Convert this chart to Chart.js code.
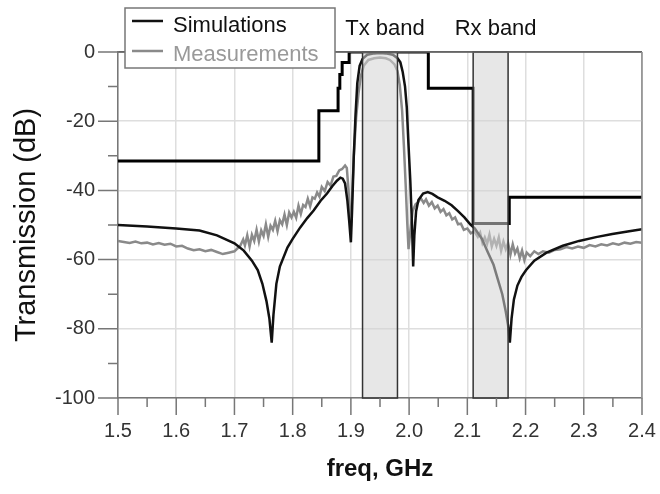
<!DOCTYPE html>
<html>
<head>
<meta charset="utf-8">
<script src="https://cdn.jsdelivr.net/npm/chart.js@4.4.0/dist/chart.umd.min.js"></script>
<style>
  html, body { margin: 0; padding: 0; background: #fff; }
  #wrap { width: 660px; height: 494px; }
</style>
</head>
<body>
<div id="wrap"><canvas id="grafico" width="660" height="494"></canvas></div>
<script>
// Eixos
const xTicks = [1.5, 1.6, 1.7, 1.8, 1.9, 2.0, 2.1, 2.2, 2.3, 2.4];
const yTicks = [-100, -80, -60, -40, -20, 0];

// Bandas (GHz)
const bandNames = ['Tx band', 'Rx band'];
const bandStart = [1.92, 2.11];
const bandEnd = [1.98, 2.17];

// Máscara (degraus)
const maskFreq = [1.5, 1.845, 1.878, 1.881, 1.885, 1.897, 2.033, 2.11, 2.172, 2.4];
const maskLevel = [-31.5, -17, -10.5, -6.5, -3, 0, -10.5, -49.6, -42, -42];

// Simulação
const simFreq = [1.50, 1.55, 1.60, 1.64, 1.67, 1.70, 1.716, 1.73, 1.74, 1.748, 1.755, 1.760, 1.764,
  1.767, 1.772, 1.778, 1.791, 1.80, 1.813, 1.825, 1.836, 1.848, 1.859, 1.868, 1.876, 1.882, 1.886,
  1.890, 1.894, 1.897, 1.900, 1.902, 1.905, 1.908, 1.911, 1.915, 1.920, 1.928, 1.94, 1.95, 1.96,
  1.972, 1.980, 1.985, 1.989, 1.993, 1.996, 1.999, 2.002, 2.005, 2.007, 2.009, 2.012, 2.016, 2.024,
  2.032, 2.04, 2.049, 2.061, 2.073, 2.084, 2.095, 2.105, 2.113, 2.125, 2.135, 2.145, 2.152, 2.160,
  2.166, 2.170, 2.173, 2.176, 2.180, 2.186, 2.193, 2.201, 2.215, 2.236, 2.264, 2.292, 2.321, 2.349,
  2.378, 2.40];
const simLoss = [-50.0, -50.4, -51.0, -51.6, -53.0, -55.3, -57.4, -60.3, -63, -67, -72, -77, -84,
  -76, -67, -62, -56.5, -54, -50.7, -48, -45.8, -43, -40.9, -38.8, -37.2, -36.3, -36.6,
  -38, -43, -48.7, -55, -46, -30, -18, -9, -4, -2, -0.8, -0.4, -0.3, -0.4,
  -0.8, -1.8, -3, -5.8, -10, -16, -27, -37, -50, -62, -53, -46, -42.8, -40.9,
  -40.5, -41, -42, -43, -44.3, -46, -47.8, -49.8, -51, -54, -57.8, -61.5, -65.5, -70,
  -75, -79, -84, -77, -71.5, -67.5, -65, -63, -60.3, -58, -56, -54.6, -53.5, -52.6,
  -51.8, -51.2];

// Medição
const measFreq = [1.50, 1.51, 1.52, 1.53, 1.54, 1.55, 1.56, 1.57, 1.58, 1.59, 1.60, 1.61, 1.62, 1.63,
  1.64, 1.65, 1.66, 1.67, 1.68, 1.69, 1.70, 1.705, 1.71, 1.715, 1.718, 1.722, 1.726, 1.73, 1.734,
  1.738, 1.742, 1.746, 1.75, 1.754, 1.758, 1.762, 1.766, 1.77, 1.774, 1.778, 1.782, 1.786, 1.79,
  1.794, 1.798, 1.802, 1.806, 1.81, 1.814, 1.818, 1.822, 1.826, 1.83, 1.834, 1.838, 1.842, 1.846,
  1.85, 1.855, 1.86, 1.865, 1.87, 1.875, 1.88, 1.885, 1.890, 1.893, 1.896, 1.898, 1.900, 1.902,
  1.905, 1.909, 1.913, 1.917, 1.922, 1.93, 1.94, 1.95, 1.96, 1.967, 1.975, 1.980, 1.984, 1.988,
  1.991, 1.994, 1.997, 1.999, 2.002, 2.006, 2.011, 2.015, 2.020, 2.025, 2.029, 2.034, 2.039, 2.044,
  2.049, 2.054, 2.059, 2.064, 2.069, 2.074, 2.079, 2.084, 2.089, 2.094, 2.10, 2.106, 2.112, 2.118,
  2.122, 2.126, 2.13, 2.134, 2.138, 2.142, 2.146, 2.15, 2.154, 2.158, 2.162, 2.166, 2.170, 2.174,
  2.178, 2.182, 2.186, 2.19, 2.194, 2.198, 2.202, 2.208, 2.215, 2.222, 2.23, 2.24, 2.25, 2.26,
  2.27, 2.28, 2.29, 2.30, 2.31, 2.32, 2.33, 2.34, 2.35, 2.36, 2.37, 2.38, 2.39, 2.40];
const measLoss = [-54.6, -54.9, -55.2, -54.8, -55.3, -55.1, -55.6, -55.2, -55.7, -55.4, -56.2, -56.0, -56.8, -57.3,
  -57.0, -57.6, -57.2, -57.8, -58.4, -58.0, -57.6, -56.8, -56.0, -54.2, -55.9, -53.0, -56.2, -52.8, -54.6,
  -51.4, -54.8, -51.6, -53.2, -49.8, -53.4, -50.2, -51.4, -48.8, -51.8, -48.6, -49.8, -47.0, -50.0,
  -46.4, -47.8, -46.2, -47.9, -44.4, -46.8, -44.2, -44.8, -42.4, -44.6, -42.0, -42.4, -40.6, -41.8,
  -39.0, -40.2, -37.6, -38.6, -36.0, -35.8, -34.2, -33.8, -32.8, -33.5, -40, -48, -50, -42,
  -30, -19, -12, -7, -4, -2.3, -1.8, -1.6, -1.8, -2.3, -3.6, -5.5, -9.6, -17,
  -27, -38, -50, -57, -52, -46, -44, -43.5, -42.2, -43.6, -42.6, -44.4, -43.4, -45.2,
  -44.4, -46.2, -45.4, -47.2, -46.6, -48.4, -47.8, -49.8, -49.6, -51.4, -51.0, -52.4, -51.8, -53.4,
  -52.2, -55.2, -53.6, -55.4, -52.8, -56.2, -54.0, -56.0, -53.6, -57.4, -54.8, -57.0, -55.2, -58.6,
  -55.6, -58.2, -56.8, -59.6, -57.4, -60.2, -58.0, -59.0, -57.6, -58.4, -57.6, -58.0, -57.2, -57.0,
  -56.4, -56.8, -56.2, -56.6, -55.8, -56.2, -55.6, -55.9, -55.3, -55.7, -55.1, -55.4, -54.9, -55.1];

const fonte = "'Liberation Sans', Arial, Helvetica, sans-serif";
const pontos = (xs, ys) => xs.map((v, i) => ({ x: v, y: ys[i] }));

// Bandas, marcas dos eixos, moldura e legenda
const extras = {
  id: 'extras',
  afterDatasetsDraw(chart) {
    const { ctx, chartArea: a, scales: { x, y } } = chart;
    ctx.save();

    // bandas sobrepostas às curvas
    const yt = y.getPixelForValue(0), yb = y.getPixelForValue(-100);
    bandStart.forEach((b, i) => {
      const x0 = x.getPixelForValue(b), x1 = x.getPixelForValue(bandEnd[i]);
      ctx.fillStyle = 'rgba(212,212,212,0.55)';
      ctx.fillRect(x0, yt, x1 - x0, yb - yt);
      ctx.strokeStyle = '#333';
      ctx.lineWidth = 1.5;
      ctx.strokeRect(x0, yt, x1 - x0, yb - yt);
      ctx.fillStyle = '#111';
      ctx.font = '22px ' + fonte;
      ctx.textAlign = 'center';
      ctx.textBaseline = 'alphabetic';
      ctx.fillText(bandNames[i], (x0 + x1) / 2 + 5, 34.5);
    });

    // moldura superior e direita
    ctx.strokeStyle = '#666';
    ctx.lineWidth = 1.5;
    ctx.beginPath();
    ctx.moveTo(a.left, a.top); ctx.lineTo(a.right, a.top);
    ctx.stroke();
    ctx.strokeStyle = '#999';
    ctx.beginPath();
    ctx.moveTo(a.right, a.top); ctx.lineTo(a.right, a.bottom);
    ctx.stroke();

    // marcas principais e secundárias
    ctx.strokeStyle = '#777';
    ctx.lineWidth = 1.5;
    ctx.beginPath();
    xTicks.forEach((v, i) => {
      const px = x.getPixelForValue(v);
      ctx.moveTo(px, a.bottom); ctx.lineTo(px, a.bottom + 17);
      if (i < xTicks.length - 1) {
        const pm = x.getPixelForValue((v + xTicks[i + 1]) / 2);
        ctx.moveTo(pm, a.bottom); ctx.lineTo(pm, a.bottom + 9);
      }
    });
    yTicks.forEach((v, i) => {
      const py = y.getPixelForValue(v);
      ctx.moveTo(a.left, py); ctx.lineTo(a.left - 20, py);
      if (i < yTicks.length - 1) {
        const pm = y.getPixelForValue((v + yTicks[i + 1]) / 2);
        ctx.moveTo(a.left, pm); ctx.lineTo(a.left - 10, pm);
      }
    });
    ctx.stroke();

    // legenda
    ctx.fillStyle = '#fff';
    ctx.fillRect(125, 8, 210, 60);
    ctx.strokeStyle = '#777';
    ctx.lineWidth = 1.5;
    ctx.strokeRect(125, 8, 210, 60);
    ctx.font = '22px ' + fonte;
    ctx.textAlign = 'left';
    ctx.textBaseline = 'alphabetic';
    const ys = [21, 51], bases = [31.5, 61];
    chart.data.datasets.filter(d => d.legenda).forEach((d, i) => {
      ctx.strokeStyle = d.borderColor;
      ctx.lineWidth = 2.5;
      ctx.beginPath();
      ctx.moveTo(132, ys[i]); ctx.lineTo(163, ys[i]);
      ctx.stroke();
      ctx.fillStyle = d.legenda;
      ctx.fillText(d.label, 173, bases[i]);
    });
    ctx.restore();
  }
};

const ctxGrafico = document.getElementById('grafico').getContext('2d');
const grafico = new Chart(ctxGrafico, {
  type: 'line',
  data: {
    datasets: [{
      label: 'Mask',
      data: pontos(maskFreq, maskLevel),
      borderColor: '#000',
      borderWidth: 3,
      stepped: 'before',
      pointRadius: 0
    }, {
      label: 'Simulations',
      legenda: '#111',
      data: pontos(simFreq, simLoss),
      borderColor: '#111',
      borderWidth: 2.5,
      tension: 0,
      pointRadius: 0
    }, {
      label: 'Measurements',
      legenda: '#999',
      data: pontos(measFreq, measLoss),
      borderColor: '#8a8a8a',
      borderWidth: 2.5,
      tension: 0,
      pointRadius: 0
    }]
  },
  options: {
    responsive: false,
    animation: false,
    layout: { padding: { top: 52, right: 18, left: 0, bottom: 0 } },
    plugins: {
      legend: { display: false },
      tooltip: { enabled: false }
    },
    scales: {
      x: {
        type: 'linear',
        min: 1.5,
        max: 2.4,
        afterFit: s => { s.height = 96; s.paddingLeft = 0; s.paddingRight = 0; },
        afterBuildTicks: s => { s.ticks = xTicks.map(v => ({ value: v })); },
        ticks: {
          callback: v => v.toFixed(1),
          font: { family: fonte, size: 20 },
          color: '#333',
          padding: 21,
          maxRotation: 0
        },
        grid: {
          color: c => (c.tick && c.tick.value === 2.4 ? '#999' : '#dedede'),
          lineWidth: 1.5,
          drawTicks: false
        },
        border: { color: '#777', width: 1.5 },
        title: {
          display: true,
          text: 'freq, GHz',
          font: { family: fonte, size: 24, weight: 'bold' },
          color: '#111',
          padding: { top: 10, bottom: 10 }
        }
      },
      y: {
        min: -100,
        max: 0,
        afterFit: s => { s.width = 118; s.paddingTop = 0; s.paddingBottom = 0; },
        afterBuildTicks: s => { s.ticks = yTicks.map(v => ({ value: v })); },
        ticks: {
          font: { family: fonte, size: 20 },
          color: '#333',
          padding: 23
        },
        grid: {
          color: c => (c.tick && c.tick.value === 0 ? '#666' : '#dedede'),
          lineWidth: 1.5,
          drawTicks: false
        },
        border: { color: '#777', width: 1.5 },
        title: {
          display: true,
          text: 'Transmission (dB)',
          font: { family: fonte, size: 29 },
          color: '#111',
          padding: { top: 10, bottom: 10 }
        }
      }
    }
  },
  plugins: [extras]
});
</script>
</body>
</html>
